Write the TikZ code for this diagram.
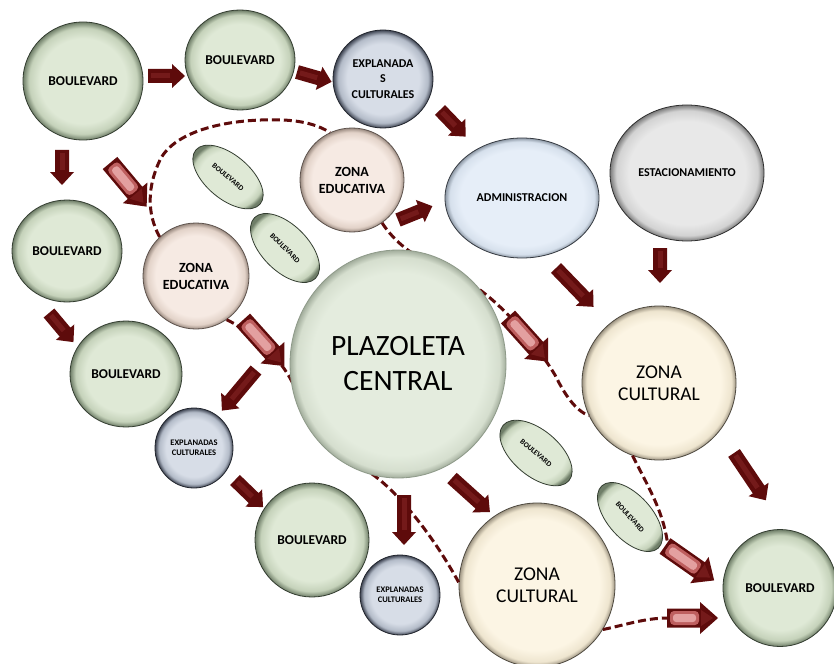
\documentclass[tikz,border=0pt]{standalone}
\usepackage{fontspec}
\setmainfont{Carlito}
\usetikzlibrary{shapes.geometric}
\definecolor{blvIn}{HTML}{DFE9D6}\definecolor{blvMid}{HTML}{C5D2BA}\definecolor{blvOut}{HTML}{6F7E68}\definecolor{blvLine}{HTML}{333D30}
\definecolor{expIn}{HTML}{D7DDE7}\definecolor{expMid}{HTML}{B3BBC8}\definecolor{expOut}{HTML}{3E4452}\definecolor{expLine}{HTML}{22262E}
\definecolor{zedIn}{HTML}{F6EAE3}\definecolor{zedMid}{HTML}{E2D2C8}\definecolor{zedOut}{HTML}{9A8A80}\definecolor{zedLine}{HTML}{5E534D}
\definecolor{admIn}{HTML}{E6EEF8}\definecolor{admMid}{HTML}{D6E0EC}\definecolor{admOut}{HTML}{8E99A6}\definecolor{admLine}{HTML}{363B42}
\definecolor{estIn}{HTML}{E8E8E8}\definecolor{estMid}{HTML}{D2D2D2}\definecolor{estOut}{HTML}{7C7C7C}\definecolor{estLine}{HTML}{2E2E2E}
\definecolor{zcuIn}{HTML}{FCF5E4}\definecolor{zcuMid}{HTML}{EEE5CF}\definecolor{zcuOut}{HTML}{9D9482}\definecolor{zcuLine}{HTML}{4F4A40}
\definecolor{plzIn}{HTML}{E4ECDE}\definecolor{plzMid}{HTML}{D5DECE}\definecolor{plzOut}{HTML}{A2AD9C}\definecolor{plzLine}{HTML}{8E9A89}
\definecolor{arrDark}{HTML}{5E0B0B}\definecolor{arrStripe}{HTML}{741A1A}
\definecolor{arrPink}{HTML}{BE5F5F}\definecolor{arrPinkLight}{HTML}{E3A0A0}
\pgfdeclareradialshading{shBlv}{\pgfpoint{0bp}{0bp}}{color(0bp)=(blvIn); color(18bp)=(blvIn); color(22.5bp)=(blvMid); color(25bp)=(blvOut); color(50bp)=(blvOut)}
\pgfdeclareradialshading{shExp}{\pgfpoint{0bp}{0bp}}{color(0bp)=(expIn); color(18bp)=(expIn); color(22.5bp)=(expMid); color(25bp)=(expOut); color(50bp)=(expOut)}
\pgfdeclareradialshading{shZed}{\pgfpoint{0bp}{0bp}}{color(0bp)=(zedIn); color(19bp)=(zedIn); color(23bp)=(zedMid); color(25bp)=(zedOut); color(50bp)=(zedOut)}
\pgfdeclareradialshading{shAdm}{\pgfpoint{0bp}{0bp}}{color(0bp)=(admIn); color(20bp)=(admIn); color(23.5bp)=(admMid); color(25bp)=(admOut); color(50bp)=(admOut)}
\pgfdeclareradialshading{shEst}{\pgfpoint{0bp}{0bp}}{color(0bp)=(estIn); color(19bp)=(estIn); color(23bp)=(estMid); color(25bp)=(estOut); color(50bp)=(estOut)}
\pgfdeclareradialshading{shZcu}{\pgfpoint{0bp}{0bp}}{color(0bp)=(zcuIn); color(20bp)=(zcuIn); color(23.5bp)=(zcuMid); color(25bp)=(zcuOut); color(50bp)=(zcuOut)}
\pgfdeclareradialshading{shPlz}{\pgfpoint{0bp}{0bp}}{color(0bp)=(plzIn); color(20bp)=(plzIn); color(23.5bp)=(plzMid); color(25bp)=(plzOut); color(50bp)=(plzOut)}
\tikzset{
  bub/.style={ellipse, inner sep=0pt, align=center, line width=0.8pt, shade, font=\bfseries\fontsize{13.5}{15}\selectfont},
  blv/.style={bub, shading=shBlv, draw=blvLine},
  blvsmall/.style={bub, shading=shBlv, draw=blvLine, font=\bfseries\fontsize{7.5}{8}\selectfont},
  expl/.style={bub, shading=shExp, draw=expLine},
  zed/.style={bub, shading=shZed, draw=zedLine, font=\bfseries\fontsize{14}{17}\selectfont},
  adm/.style={bub, shading=shAdm, draw=admLine, font=\bfseries\fontsize{12}{13}\selectfont},
  est/.style={bub, shading=shEst, draw=estLine, font=\bfseries\fontsize{12}{13}\selectfont},
  zcu/.style={bub, shading=shZcu, draw=zcuLine, font=\fontsize{19.5}{22}\selectfont},
  plz/.style={bub, shading=shPlz, draw=plzLine, font=\fontsize{29.5}{35}\selectfont},
  dsh/.style={draw=arrDark, line width=3pt, dash pattern=on 8pt off 4pt},
}
\newcommand\darr[3]{\begin{scope}[shift={(#1)},rotate=#2]
  \path[fill=arrDark] (0,-7) -- (#3-13,-7) -- (#3-13,-12) -- (#3,0) -- (#3-13,12) -- (#3-13,7) -- (0,7) -- cycle;
  \path[fill=arrStripe] (3,-2.5) rectangle (#3-15,2.5);
\end{scope}}
\newcommand\parr[3]{\begin{scope}[shift={(#1)},rotate=#2]
  \path[fill=arrDark] (0,-9.5) -- (#3-18,-9.5) -- (#3-18,-16) -- (#3,0) -- (#3-18,16) -- (#3-18,9.5) -- (0,9.5) -- cycle;
  \path[fill=arrPink, rounded corners=4pt] (3,-7) rectangle (#3-19,7);
  \path[fill=arrPinkLight, rounded corners=3pt] (6,-4) rectangle (#3-22,4);
  \path[fill=arrStripe] (#3-17,-8) -- (#3-5,0) -- (#3-17,8) -- cycle;
\end{scope}}
\begin{document}
\begin{tikzpicture}[x=1pt,y=-1pt]
\useasboundingbox[fill=white] (0,0) rectangle (834,663);
% bubbles
\node[blv, minimum width=120pt, minimum height=118pt] (b1) at (83,81) {BOULEVARD};
\node[blv, minimum width=110pt, minimum height=100pt] (b2) at (240,60) {BOULEVARD};
\node[expl, minimum width=100pt, minimum height=98pt, font=\bfseries\fontsize{12}{15.5}\selectfont] (ex1) at (383,79) {EXPLANADA\\S\\CULTURALES};
\node[zed, minimum width=104pt, minimum height=104pt] (ze1) at (352,180) {ZONA\\EDUCATIVA};
\node[zed, minimum width=106pt, minimum height=106pt] (ze2) at (196,276) {ZONA\\EDUCATIVA};
\node[adm, minimum width=154pt, minimum height=120pt] (adm) at (522,198) {ADMINISTRACION};
\node[est, minimum width=154pt, minimum height=136pt] (est) at (687,173) {ESTACIONAMIENTO};
\node[blv, minimum width=110pt, minimum height=102pt] (b3) at (67,251) {BOULEVARD};
\node[blv, minimum width=112pt, minimum height=106pt] (b4) at (126,374) {BOULEVARD};
\node[expl, minimum width=78pt, minimum height=80pt, font=\bfseries\fontsize{8.5}{10}\selectfont] (ex2) at (194,448) {EXPLANADAS\\CULTURALES};
\node[blv, minimum width=114pt, minimum height=114pt] (b5) at (312,540) {BOULEVARD};
\node[expl, minimum width=80pt, minimum height=80pt, font=\bfseries\fontsize{8.5}{10}\selectfont] (ex3) at (400,595) {EXPLANADAS\\CULTURALES};
\node[blv, minimum width=114pt, minimum height=117pt] (b6) at (780,588) {BOULEVARD};
\node[blvsmall, minimum width=84pt, minimum height=44pt, rotate=-40] (s1) at (228,177) {BOULEVARD};
\node[blvsmall, minimum width=86pt, minimum height=46pt, rotate=-45] (s2) at (285,248) {BOULEVARD};
\node[blvsmall, minimum width=86pt, minimum height=46pt, rotate=-40] (s3) at (536,453) {BOULEVARD};
\node[blvsmall, minimum width=84pt, minimum height=44pt, rotate=-48] (s4) at (630,517) {BOULEVARD};
\node[zcu, minimum width=154pt, minimum height=154pt] (zc1) at (659,383) {ZONA\\CULTURAL};
\node[zcu, minimum width=156pt, minimum height=164pt] (zc2) at (537,585) {ZONA\\CULTURAL};
% dashed routes
\coordinate (d5end) at (668,548);
\coordinate (d6end) at (668,618);
\draw[dsh] (ze2.133) .. controls (146,212) and (148,185) .. (160,160) .. controls (175,130) and (230,118) .. (283,120) .. controls (305,121) and (320,126) .. (ze1.115);
\draw[dsh] (ze1.-55) .. controls (410,265) and (455,270) .. (480,290) .. controls (510,312) and (540,350) .. (555,375) .. controls (565,395) and (575,410) .. (zc1.-155);
\draw[dsh] (ze2.-55) .. controls (245,328) and (280,355) .. (293,384);
\draw[dsh] (372,474) .. controls (395,490) and (430,530) .. (zc2.178);
\draw[dsh] (zc1.-110) .. controls (650,490) and (665,515) .. (d5end);
\draw[dsh] (zc2.-34) .. controls (625,625) and (645,618) .. (d6end);
\node[plz, minimum width=216pt, minimum height=228pt] (pc) at (398,364) {PLAZOLETA\\CENTRAL};
% block arrows
\darr{148,76}{0}{37}
\darr{297,72}{-16}{36}
\darr{440,110}{-46}{37}
\darr{62,150}{-90}{35}
\darr{398,220}{22}{37}
\darr{556,268}{-46}{54}
\darr{660,248}{-90}{35}
\darr{49,313}{-50}{38}
\darr{256,370}{-130}{53}
\darr{235,480}{-44}{39}
\darr{404,495}{-90}{50}
\darr{452,478}{-42}{51}
\darr{734,453}{-56}{57}
\parr{110,163}{-50}{57}
\parr{243,320}{-48}{62}
\parr{508,317}{-48}{60}
\parr{665,546}{-35}{60}
\parr{667,618}{0}{51}
\end{tikzpicture}
\end{document}
